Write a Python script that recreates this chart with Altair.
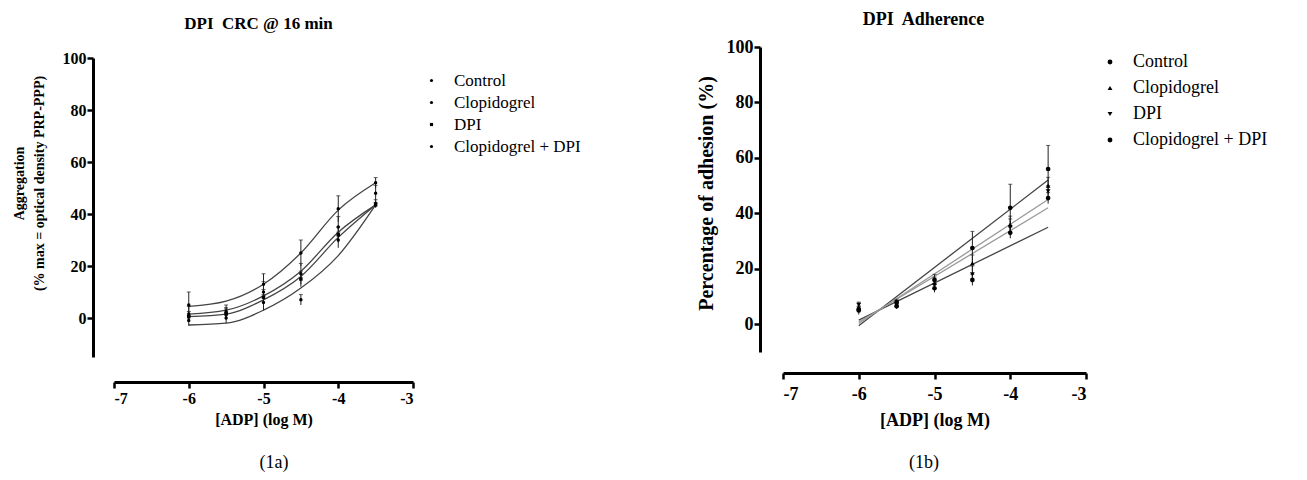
import altair as alt
import pandas as pd

FONT = "Liberation Serif"

SERIES = ["Control", "Clopidogrel", "DPI", "Clopidogrel + DPI"]
LOG_ADP = [-6, -5.5, -5, -4.5, -4, -3.5]
X_TICKS = [-7, -6, -5, -4, -3]
Y_TICKS = [0, 20, 40, 60, 80, 100]

# ---- Figure 1a: DPI CRC @ 16 min (aggregation) ----
A_CONTROL = [5, 2, 13, 25, 42, 52]
A_CONTROL_ERR = [5, 2, 4, 5, 5, 2]
A_CLOP = [1.5, 2.5, 10, 17, 35, 48]
A_CLOP_ERR = [3, 2.5, 4, 4, 4, 3]
A_DPI = [0.5, 1.5, 8, 15, 32, 43.5]
A_DPI_ERR = [2, 2, 3, 3, 3, 1]
A_BOTH = [-1, 0, 6, 7, 30, 44]
A_BOTH_ERR = [2, 2, 3, 2, 3, 1.5]

A_FIT_CONTROL = [4.5, 6.5, 13, 25, 41.5, 52]
A_FIT_CLOP = [1.5, 3, 8.5, 18, 33, 43.5]
A_FIT_DPI = [0.5, 1.5, 7, 16, 31, 43.5]
A_FIT_BOTH = [-2.7, -2, 3, 11.5, 24, 43.5]

# ---- Figure 1b: DPI Adherence ----
B_CONTROL = [5, 8, 16, 27.5, 42, 56]
B_CONTROL_ERR = [1.5, 1, 2, 6, 8.5, 8.5]
B_CLOP = [6, 7.5, 15, 22, 36, 50]
B_CLOP_ERR = [1.5, 1, 2, 3, 3, 3]
B_DPI = [7, 7, 14, 18, 35, 48]
B_DPI_ERR = [1, 1, 2, 3, 3, 2]
B_BOTH = [5.5, 6.5, 13, 16, 33, 45.5]
B_BOTH_ERR = [1, 1, 1.5, 2, 2, 2]

B_FIT_X = [-6, -3.5]
B_FIT_CONTROL = [-0.5, 52]
B_FIT_CLOP = [0.3, 45]
B_FIT_DPI = [0.8, 42]
B_FIT_BOTH = [1.5, 35]


def points_df(means, errs):
    rows = []
    for s, m, e in zip(SERIES, means, errs):
        for x, v, d in zip(LOG_ADP, m, e):
            rows.append({"series": s, "x": x, "y": v, "lo": v - d, "hi": v + d})
    return pd.DataFrame(rows)


def fit_df(xs, fits):
    rows = []
    for s, f in zip(SERIES, fits):
        for x, v in zip(xs, f):
            rows.append({"series": s, "x": x, "y": v})
    return pd.DataFrame(rows)


a_pts = points_df([A_CONTROL, A_CLOP, A_DPI, A_BOTH],
                  [A_CONTROL_ERR, A_CLOP_ERR, A_DPI_ERR, A_BOTH_ERR])
a_fit = fit_df(LOG_ADP, [A_FIT_CONTROL, A_FIT_CLOP, A_FIT_DPI, A_FIT_BOTH])
b_pts = points_df([B_CONTROL, B_CLOP, B_DPI, B_BOTH],
                  [B_CONTROL_ERR, B_CLOP_ERR, B_DPI_ERR, B_BOTH_ERR])
b_fit = fit_df(B_FIT_X, [B_FIT_CONTROL, B_FIT_CLOP, B_FIT_DPI, B_FIT_BOTH])


def make_panel(pts, fit, *, ymin, width, height, yrange, xoff, yoff, fs, xtfs,
               xlpad, xtpad, ytfs, ytitle, ytitle_y, ytpad, title, tfs,
               title_off, title_dx, shapes, psize, dark, light, interp, legend,
               caption, cap_xy):
    xscale = alt.Scale(domain=[-7, -3], nice=False, zero=False)
    yscale = alt.Scale(domain=[ymin, 100], nice=False, zero=False, range=yrange)
    common = dict(domainColor="black", domainWidth=3, tickColor="black",
                  tickWidth=2.5, tickSize=6, labelFont=FONT, labelFontWeight="bold",
                  labelFontSize=fs, labelColor="black", titleFont=FONT,
                  titleFontWeight="bold", titleColor="black", grid=False,
                  labelExpr="'' + datum.value")
    xaxis = alt.Axis(values=X_TICKS, offset=xoff, title="[ADP] (log M)",
                     titleFontSize=xtfs, labelPadding=xlpad, titlePadding=xtpad,
                     **common)
    yaxis = alt.Axis(values=Y_TICKS, offset=yoff, title=ytitle,
                     titleFontSize=ytfs, titleLineHeight=20, labelPadding=1,
                     titlePadding=ytpad, titleY=ytitle_y, **common)
    X = alt.X("x:Q", scale=xscale, axis=xaxis)
    Yv = alt.Y("y:Q", scale=yscale, axis=yaxis)

    layers = []
    for names, col in ((dark, "#444"), (light, "#999")):
        if not names:
            continue
        layers.append(
            alt.Chart(fit).transform_filter(
                alt.FieldOneOfPredicate(field="series", oneOf=names)
            ).mark_line(strokeWidth=1.3, interpolate=interp, color=col).encode(
                x=X, y=Yv, detail="series:N")
        )
    bars = alt.Chart(pts).mark_rule(color="#222", strokeWidth=1).encode(
        x=X,
        y=alt.Y("lo:Q", scale=yscale, axis=yaxis),
        y2="hi:Q",
    )
    caps = alt.Chart(pts).mark_tick(color="#222", thickness=1, size=4,
                                    orient="horizontal").encode(
        x=X,
        y=alt.Y("hi:Q", scale=yscale, axis=yaxis),
    )
    dots = alt.Chart(pts).mark_point(filled=True, color="black", opacity=1,
                                     size=psize).encode(
        x=X,
        y=Yv,
        shape=alt.Shape("series:N", sort=SERIES,
                        scale=alt.Scale(domain=SERIES, range=shapes),
                        legend=legend),
    )
    cap = alt.Chart(pd.DataFrame({"t": [caption]})).mark_text(
        font=FONT, fontSize=18, color="black", baseline="middle", align="center"
    ).encode(text="t:N", x=alt.value(cap_xy[0]), y=alt.value(cap_xy[1]))

    return alt.layer(*layers, bars, caps, dots, cap).properties(
        width=width, height=height,
        title=alt.TitleParams(title, font=FONT, fontSize=tfs, fontWeight="bold",
                              color="black", anchor="middle", frame="group",
                              dx=title_dx, offset=title_off),
    )


legend_a = alt.Legend(orient="none", legendX=309, legendY=25, title=None,
                      labelFont=FONT, labelFontSize=17, labelColor="black",
                      symbolSize=10, symbolFillColor="black",
                      symbolStrokeColor="black", rowPadding=4, labelOffset=14,
                      padding=0)
legend_b = alt.Legend(orient="none", legendX=318, legendY=6, title=None,
                      labelFont=FONT, labelFontSize=18, labelColor="black",
                      symbolSize=24, symbolFillColor="black",
                      symbolStrokeColor="black", rowPadding=8, labelOffset=14,
                      padding=0)

left = make_panel(
    a_pts, a_fit, ymin=-15, width=299, height=310, yrange=[310, 11],
    xoff=25, yoff=21, fs=16, xtfs=16, xlpad=2, xtpad=5, ytfs=14,
    ytitle=["Aggregation", "(% max = optical density PRP-PPP)"], ytitle_y=136,
    ytpad=16, title="DPI\u00a0 CRC @ 16 min", tfs=17, title_off=14, title_dx=-5,
    shapes=["circle", "circle", "square", "circle"], psize=12,
    dark=SERIES, light=[], interp="monotone",
    legend=legend_a, caption="(1a)", cap_xy=(160, 416),
)
right = make_panel(
    b_pts, b_fit, ymin=-10, width=303, height=305, yrange=[305, 0],
    xoff=21, yoff=23, fs=18, xtfs=18, xlpad=6, xtpad=8, ytfs=20,
    ytitle="Percentage of adhesion (%)", ytitle_y=146, ytpad=10,
    title="DPI\u00a0 Adherence", tfs=18, title_off=9, title_dx=-11,
    shapes=["circle", "triangle-up", "triangle-down", "circle"], psize=22,
    dark=["Control", "Clopidogrel + DPI"], light=["Clopidogrel", "DPI"],
    interp="linear", legend=legend_b, caption="(1b)", cap_xy=(141, 416),
)

chart = alt.hconcat(left, right, spacing=114).resolve_scale(
    shape="independent"
).resolve_legend(shape="independent").properties(
    padding={"left": 4, "top": 3, "right": 0, "bottom": 0}
).configure_view(stroke=None)

chart.save("out.html", embed_options={"renderer": "svg", "actions": False})
